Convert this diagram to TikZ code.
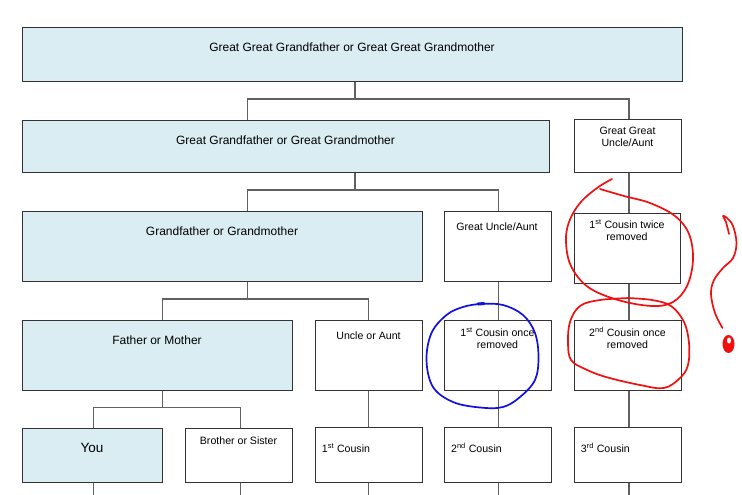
\documentclass[tikz,border=0pt]{standalone}
\usepackage{fontspec}
\setmainfont{Liberation Sans}
\definecolor{famblue}{HTML}{DAEDF3}
\definecolor{inkred}{HTML}{F01010}
\definecolor{inkblue}{HTML}{1010E0}
\begin{document}
\begin{tikzpicture}[x=1pt,y=-1pt,
  boxbase/.style={draw=black!80, line width=0.9pt, inner sep=0pt, anchor=north west},
  famcell/.style={boxbase, fill=famblue},
  plaincell/.style={boxbase, fill=white},
  conn/.style={draw=black!62, line width=1.1pt},
  bigtxt/.style={font=\fontsize{12}{14}\selectfont, inner sep=0pt, anchor=base},
  youtxt/.style={font=\fontsize{13.5}{15}\selectfont, inner sep=0pt, anchor=base},
  smalltxt/.style={font=\fontsize{10.6}{11.8}\selectfont, inner sep=0pt, anchor=base, align=center},
  lefttxt/.style={font=\fontsize{10.6}{11.8}\selectfont, inner sep=0pt, anchor=base west},
  redink/.style={draw=inkred, line width=1.7pt, line cap=round, line join=round},
  blueink/.style={draw=inkblue, line width=1.7pt, line cap=round, line join=round}
]
\useasboundingbox (0,0) rectangle (742,495);
\fill[white] (0,0) rectangle (742,495);

% ---------- coordinates for connector columns and buses
\coordinate (cA) at (247.5,0);
\coordinate (cB) at (355,0);
\coordinate (cC) at (629,0);
\coordinate (cD) at (498.7,0);
\coordinate (cE) at (162.3,0);
\coordinate (cF) at (368.7,0);
\coordinate (cG) at (93.3,0);
\coordinate (cH) at (240.3,0);
\coordinate (bus1) at (0,99);
\coordinate (bus2) at (0,190);
\coordinate (bus3) at (0,299);
\coordinate (bus4) at (0,407.7);
\coordinate (bot) at (0,496);

% ---------- boxes
\node[famcell, minimum width=660pt, minimum height=54pt] (ggg) at (22,27) {};
\node[famcell, minimum width=527pt, minimum height=52pt] (ggf) at (22,120) {};
\node[plaincell, minimum width=107pt, minimum height=53pt] (ggua) at (574,119) {};
\node[famcell, minimum width=400pt, minimum height=70pt] (gf) at (22,211) {};
\node[plaincell, minimum width=107pt, minimum height=70pt] (gua) at (443.5,211) {};
\node[plaincell, minimum width=106pt, minimum height=70pt] (c1tr) at (574,213) {};
\node[famcell, minimum width=270pt, minimum height=70pt] (fm) at (22,320) {};
\node[plaincell, minimum width=107pt, minimum height=70pt] (ua) at (315,320) {};
\node[plaincell, minimum width=107pt, minimum height=70pt] (c1or) at (444,320) {};
\node[plaincell, minimum width=107pt, minimum height=70pt] (c2or) at (574,320) {};
\node[famcell, minimum width=140pt, minimum height=54pt] (you) at (22,428) {};
\node[plaincell, minimum width=107pt, minimum height=54pt] (bro) at (185,428) {};
\node[plaincell, minimum width=107pt, minimum height=55pt] (c1) at (315,427) {};
\node[plaincell, minimum width=107pt, minimum height=55pt] (c2) at (444,427) {};
\node[plaincell, minimum width=107pt, minimum height=55pt] (c3) at (574,427) {};

% ---------- texts
\node[bigtxt] (gggT) at (352,51.5) {Great Great Grandfather or Great Great Grandmother};
\node[bigtxt] (ggfT) at (285.5,144) {Great Grandfather or Great Grandmother};
\node[smalltxt] (gguaT) at (627.5,146.5) {Great Great\\Uncle/Aunt};
\node[bigtxt] (gfT) at (222,235) {Grandfather or Grandmother};
\node[smalltxt] (guaT) at (497,230) {Great Uncle/Aunt};
\node[smalltxt] (c1trT) at (627,240) {1\textsuperscript{st} Cousin twice\\removed};
\node[bigtxt] (fmT) at (157,344) {Father or Mother};
\node[smalltxt] (uaT) at (368.5,339) {Uncle or Aunt};
\node[smalltxt] (c1orT) at (497.5,348.3) {1\textsuperscript{st} Cousin once\\removed};
\node[smalltxt] (c2orT) at (627.5,348.3) {2\textsuperscript{nd} Cousin once\\removed};
\node[youtxt] (youT) at (92,452.3) {You};
\node[smalltxt] (broT) at (238.5,444.3) {Brother or Sister};
\node[lefttxt] (c1T) at (321.7,452.3) {1\textsuperscript{st} Cousin};
\node[lefttxt] (c2T) at (451,452.3) {2\textsuperscript{nd} Cousin};
\node[lefttxt] (c3T) at (580.7,452.3) {3\textsuperscript{rd} Cousin};

% ---------- connectors
\draw[conn] (ggg.south -| cB) -- (cB |- bus1);
\draw[conn] (ggf.north -| cA) -- (cA |- bus1) -- (cC |- bus1) -- (ggua.north -| cC);
\draw[conn] (ggf.south -| cB) -- (cB |- bus2);
\draw[conn] (gf.north -| cA) -- (cA |- bus2) -- (cD |- bus2) -- (gua.north -| cD);
\draw[conn] (ggua.south -| cC) -- (c1tr.north -| cC);
\draw[conn] (gf.south -| cA) -- (cA |- bus3);
\draw[conn] (fm.north -| cE) -- (cE |- bus3) -- (cF |- bus3) -- (ua.north -| cF);
\draw[conn] (gua.south -| cD) -- (c1or.north -| cD);
\draw[conn] (c1tr.south -| cC) -- (c2or.north -| cC);
\draw[conn] (fm.south -| cE) -- (cE |- bus4);
\draw[conn] (you.north -| cG) -- (cG |- bus4) -- (cH |- bus4) -- (bro.north -| cH);
\draw[conn] (ua.south -| cF) -- (c1.north -| cF);
\draw[conn] (c1or.south -| cD) -- (c2.north -| cD);
\draw[conn] (c2or.south -| cC) -- (c3.north -| cC);
\draw[conn] (you.south -| cG) -- (cG |- bot);
\draw[conn] (bro.south -| cH) -- (cH |- bot);
\draw[conn] (c1.south -| cF) -- (cF |- bot);
\draw[conn] (c2.south -| cD) -- (cD |- bot);
\draw[conn] (c3.south -| cC) -- (cC |- bot);

% ---------- hand-drawn marks
% red loop around "1st Cousin twice removed"
\draw[redink] plot[smooth, tension=0.6] coordinates {
  (612,179) (597,188) (580,203) (569,222) (566,242) (571,266) (588,287)
  (618,300) (652,306) (673,302) (687,286) (693,260) (689,234) (675,216)
  (650,203) (624,196) (600,189)};
% red loop around "2nd Cousin once removed"
\draw[redink] plot[smooth, tension=0.6] coordinates {
  (627,298) (652,300) (671,306) (684,322) (689,343) (688,365) (680,378)
  (664,388) (640,385) (606,377) (585,369) (571,360) (568,343) (570,322)
  (580,306) (600,300) (630,298)};
% red question-mark stroke
\draw[redink] plot[smooth, tension=0.6] coordinates {
  (729,234) (726,222) (723,216) (727,218) (733,226) (736.5,243) (733,258)
  (723,268) (714,280) (711,294) (715,313) (722.5,328)};
\fill[inkred] (728.5,344) ellipse [x radius=6, y radius=9];
\fill[white] (729,340.5) ellipse [x radius=2, y radius=3];
% blue loop around "1st Cousin once removed"
\draw[blueink] plot[smooth cycle, tension=0.6] coordinates {
  (481,304) (503,305) (523,315) (535,333) (538.5,357) (535,380) (520,397)
  (503,407) (480,407.5) (453,402) (433,387) (426.5,360) (431.5,333)
  (446.5,315) (463,307)};
\draw[inkblue, line width=3pt, line cap=round] (478,304) -- (484,303.5);
\end{tikzpicture}
\end{document}
